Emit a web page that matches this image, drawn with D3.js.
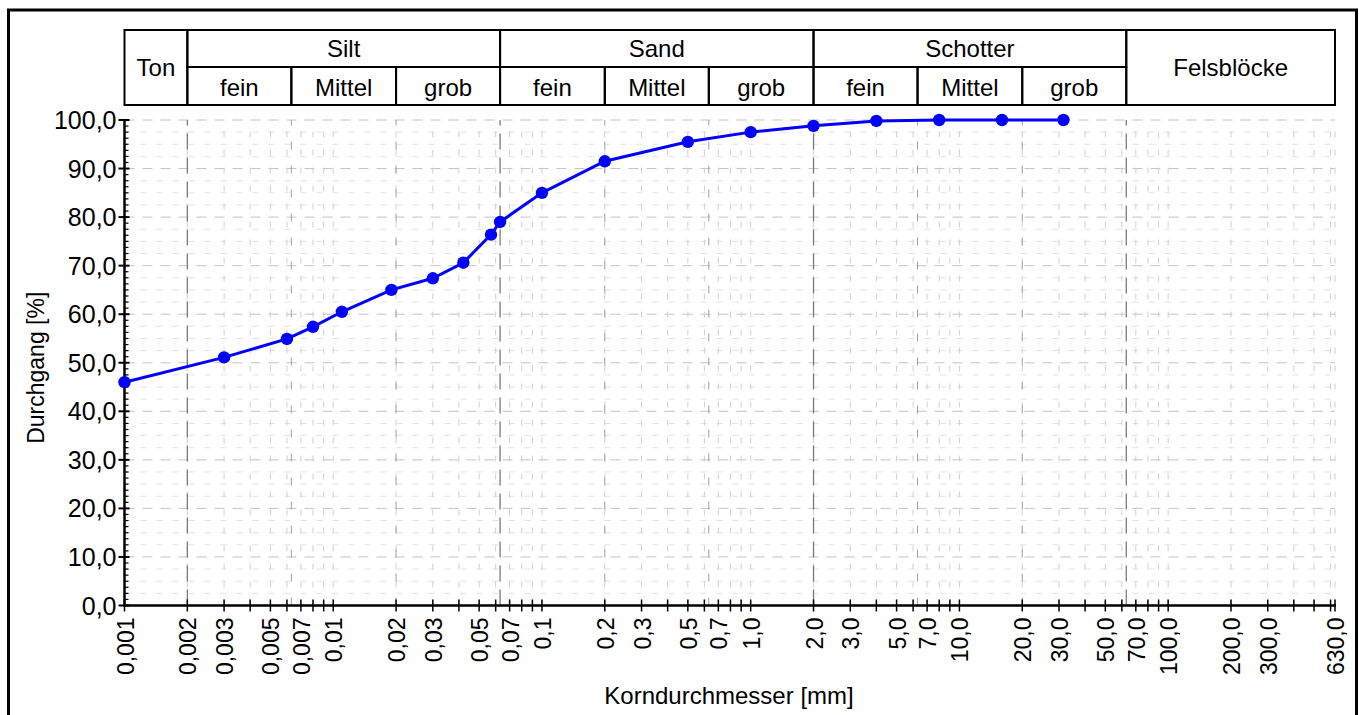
<!DOCTYPE html>
<html>
<head>
<meta charset="utf-8">
<script src="https://cdn.jsdelivr.net/npm/d3@7"></script>
<style>
  body { margin: 0; background: #fff; }
  svg { display: block; font-family: "Liberation Sans", Arial, sans-serif; }
</style>
</head>
<body>
<svg id="chart" width="1359" height="715"></svg>
<script>
// Korngroessenverteilung (Sieblinie)
const sizes   = [0.001, 0.003, 0.006, 0.008, 0.011, 0.019, 0.03, 0.042, 0.057, 0.063, 0.1, 0.2, 0.5, 1.0, 2.0, 4.0, 8.0, 16.0, 31.5];
const passing = [46.0, 51.1, 54.9, 57.4, 60.5, 65.0, 67.4, 70.6, 76.4, 79.0, 85.0, 91.5, 95.5, 97.5, 98.8, 99.8, 100, 100, 100];

const xTickLabels = [0.001, 0.002, 0.003, 0.005, 0.007, 0.01, 0.02, 0.03, 0.05, 0.07, 0.1, 0.2, 0.3, 0.5, 0.7,
                     1, 2, 3, 5, 7, 10, 20, 30, 50, 70, 100, 200, 300, 630];
const yTickLabels = [0, 10, 20, 30, 40, 50, 60, 70, 80, 90, 100];

// Bodenklassen (Kopftabelle)
const mainNames  = ['Ton', 'Silt', 'Sand', 'Schotter', 'Felsblöcke'];
const mainBounds = [0.001, 0.002, 0.063, 2, 63, 630];
const subNames   = ['fein', 'Mittel', 'grob'];
const subBounds  = [[0.002, 0.0063, 0.02, 0.063], [0.063, 0.2, 0.63, 2], [2, 6.3, 20, 63]];

const svg = d3.select('#chart');
const x = d3.scaleLog().domain([0.001, 630]).range([124.5, 1335]);
const y = d3.scaleLinear().domain([0, 100]).range([605.5, 120]);
const fmtX = d => d < 1 ? String(d).replace('.', ',') : d3.format('.1f')(d).replace('.', ',');
const fmtY = d => d3.format('.1f')(d).replace('.', ',');
const fs = 24;

// outer frame
svg.append('rect').attr('x', 8.5).attr('y', 10).attr('width', 1348).attr('height', 730)
  .attr('fill', 'none').attr('stroke', '#000').attr('stroke-width', 3);

// log grid values
let logTicks = [];
for (let e = -3; e <= 2; e++) {
  for (let k = 1; k <= 9; k++) {
    const v = +(k * Math.pow(10, e)).toPrecision(3);
    if (v <= 630) logTicks.push(v);
  }
}
logTicks.push(630);

const grid = svg.append('g');
// horizontal grid every 2.5 %
d3.range(0, 100.1, 2.5).forEach(v => {
  const major = v % 10 === 0;
  grid.append('line').attr('x1', x(0.001)).attr('x2', x(630)).attr('y1', y(v)).attr('y2', y(v))
    .attr('stroke', major ? '#c4c4c4' : '#e2e2e2').attr('stroke-width', 1)
    .attr('stroke-dasharray', major ? '10,8' : '6,10');
});
// vertical grid
logTicks.forEach(v => {
  grid.append('line').attr('x1', x(v)).attr('x2', x(v)).attr('y1', y(0)).attr('y2', y(100))
    .attr('stroke', '#d0d0d0').attr('stroke-width', 1).attr('stroke-dasharray', '6,12');
});
[0.0063, 0.02, 0.2, 0.63, 6.3, 20].forEach(v => {
  grid.append('line').attr('x1', x(v)).attr('x2', x(v)).attr('y1', y(0)).attr('y2', y(100))
    .attr('stroke', '#a0a0a0').attr('stroke-width', 1).attr('stroke-dasharray', '8,16');
});
[0.002, 0.063, 2, 63].forEach(v => {
  grid.append('line').attr('x1', x(v)).attr('x2', x(v)).attr('y1', y(0)).attr('y2', y(100))
    .attr('stroke', '#7a7a7a').attr('stroke-width', 1.3).attr('stroke-dasharray', '16,8');
});

// header table
const hTop = 30, hMid = 67, hBot = 105;
const head = svg.append('g');
mainNames.forEach((n, i) => {
  const x0 = x(mainBounds[i]), x1 = x(mainBounds[i + 1]);
  const single = (i === 0 || i === 4);
  head.append('rect').attr('x', x0).attr('y', hTop).attr('width', x1 - x0)
    .attr('height', single ? hBot - hTop : hMid - hTop)
    .attr('fill', 'none').attr('stroke', '#000').attr('stroke-width', 2);
  head.append('text').attr('x', (x0 + x1) / 2).attr('y', single ? (hTop + hBot) / 2 : (hTop + hMid) / 2)
    .attr('text-anchor', 'middle').attr('dominant-baseline', 'central')
    .attr('font-size', fs).text(n);
});
subBounds.forEach(b => {
  subNames.forEach((n, j) => {
    const x0 = x(b[j]), x1 = x(b[j + 1]);
    head.append('rect').attr('x', x0).attr('y', hMid).attr('width', x1 - x0).attr('height', hBot - hMid)
      .attr('fill', 'none').attr('stroke', '#000').attr('stroke-width', 2);
    head.append('text').attr('x', (x0 + x1) / 2).attr('y', (hMid + hBot) / 2 + 1)
      .attr('text-anchor', 'middle').attr('dominant-baseline', 'central')
      .attr('font-size', fs).text(n);
  });
});

// y axis
const yAxis = svg.append('g');
yAxis.append('line').attr('x1', x(0.001)).attr('x2', x(0.001)).attr('y1', y(0) + 1).attr('y2', y(100))
  .attr('stroke', '#000').attr('stroke-width', 2.5);
d3.range(0, 100.1, 1.25).forEach(v => {
  const major = v % 10 === 0;
  yAxis.append('line').attr('x1', x(0.001) - (major ? 6 : 0)).attr('x2', x(0.001) + (major ? 5 : 4))
    .attr('y1', y(v)).attr('y2', y(v)).attr('stroke', '#000').attr('stroke-width', major ? 2 : 1.2);
});
yAxis.selectAll('text.yl').data(yTickLabels).enter().append('text')
  .attr('x', x(0.001) - 8).attr('y', d => y(d)).attr('text-anchor', 'end')
  .attr('dominant-baseline', 'central').attr('font-size', 25).text(fmtY);

// x axis
const xAxis = svg.append('g');
xAxis.append('line').attr('x1', x(0.001) - 1).attr('x2', x(630) + 1).attr('y1', y(0)).attr('y2', y(0))
  .attr('stroke', '#000').attr('stroke-width', 2.5);
logTicks.forEach(v => {
  xAxis.append('line').attr('x1', x(v)).attr('x2', x(v)).attr('y1', y(0) - 6).attr('y2', y(0) + 6)
    .attr('stroke', '#000').attr('stroke-width', 1.5);
});
xAxis.selectAll('text.xl').data(xTickLabels).enter().append('text')
  .attr('transform', d => `translate(${x(d) + 1},${y(0) + 12}) rotate(-90)`)
  .attr('text-anchor', 'end').attr('dominant-baseline', 'central')
  .attr('font-size', 23).text(fmtX);

// axis titles
svg.append('text').attr('x', 729).attr('y', 695).attr('text-anchor', 'middle')
  .attr('dominant-baseline', 'central').attr('font-size', 24).text('Korndurchmesser [mm]');
svg.append('text').attr('transform', `translate(36,${y(50) + 5}) rotate(-90)`).attr('text-anchor', 'middle')
  .attr('dominant-baseline', 'central').attr('font-size', 23).text('Durchgang [%]');

// curve
const pts = sizes.map((s, i) => [s, passing[i]]);
svg.append('path').datum(pts)
  .attr('d', d3.line().x(d => x(d[0])).y(d => y(d[1])))
  .attr('fill', 'none').attr('stroke', '#0000ff').attr('stroke-width', 3);
svg.selectAll('circle.pt').data(pts).enter().append('circle')
  .attr('cx', d => x(d[0])).attr('cy', d => y(d[1])).attr('r', 6.2).attr('fill', '#0000ff');
</script>
</body>
</html>
